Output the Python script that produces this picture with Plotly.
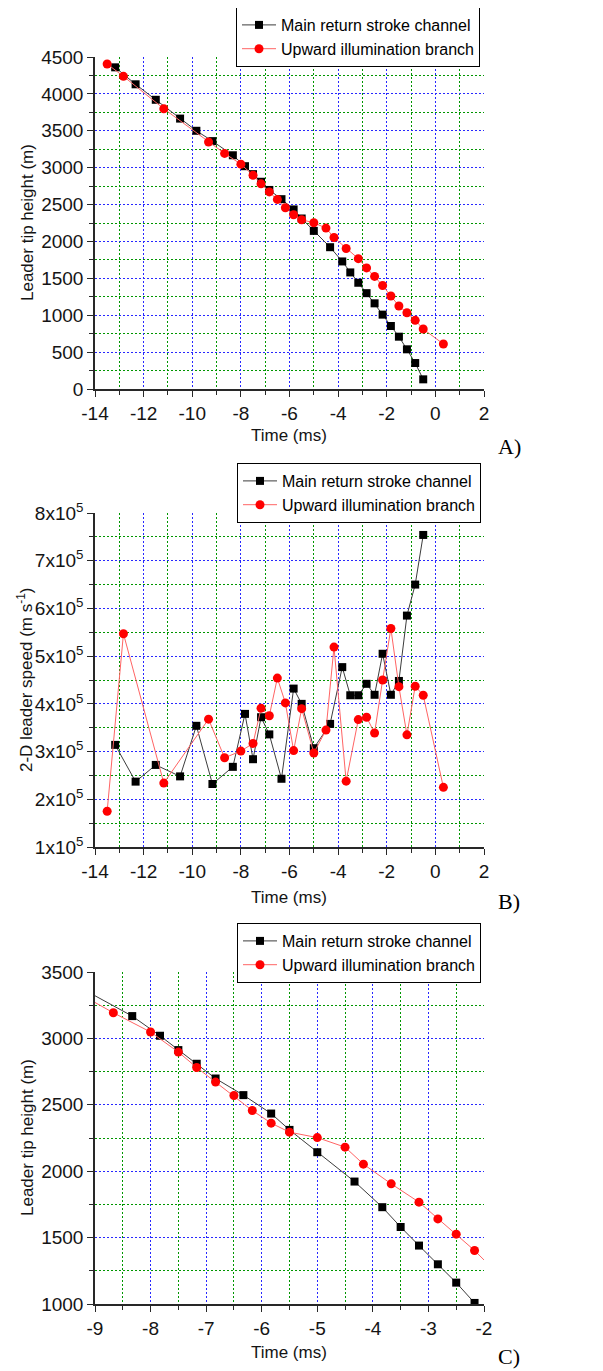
import plotly.graph_objects as go

# leader tip data (time in ms)
t_main = [-13.17, -12.33, -11.5, -10.5, -9.83, -9.17, -8.33, -7.83, -7.5, -7.17, -6.83, -6.33, -5.83, -5.5,
          -5.0, -4.33, -3.83, -3.5, -3.17, -2.83, -2.5, -2.17, -1.83, -1.5, -1.17, -0.83, -0.5]
h_main = [4360, 4130, 3920, 3665, 3500, 3360, 3168, 3020, 2912, 2809, 2698, 2573, 2434, 2311,
          2143, 1922, 1729, 1580, 1440, 1299, 1161, 1008, 854, 709, 538, 352, 131]
v_main = [3.14e5, 2.37e5, 2.72e5, 2.48e5, 3.54e5, 2.32e5, 2.68e5, 3.79e5, 2.84e5, 3.72e5, 3.36e5, 2.43e5, 4.32e5, 4.0e5,
          3.07e5, 3.58e5, 4.77e5, 4.18e5, 4.18e5, 4.42e5, 4.19e5, 5.05e5, 4.19e5, 4.48e5, 5.85e5, 6.50e5, 7.54e5]

t_up = [-13.5, -12.83, -11.17, -9.33, -8.67, -8.0, -7.5, -7.17, -6.83, -6.5, -6.17, -5.83, -5.5, -5.0,
        -4.5, -4.17, -3.67, -3.17, -2.83, -2.5, -2.17, -1.83, -1.5, -1.17, -0.83, -0.5, 0.33]
h_up = [4405, 4238, 3799, 3348, 3193, 3048, 2897, 2781, 2671, 2570, 2457, 2362, 2294, 2253,
        2181, 2053, 1905, 1767, 1641, 1526, 1403, 1260, 1125, 1034, 931, 813, 610]
v_up = [1.75e5, 5.47e5, 2.34e5, 3.68e5, 2.87e5, 3.01e5, 3.17e5, 3.91e5, 3.75e5, 4.54e5, 4.02e5, 3.02e5, 3.90e5, 2.97e5,
        3.45e5, 5.19e5, 2.38e5, 3.67e5, 3.72e5, 3.39e5, 4.50e5, 5.58e5, 4.36e5, 3.35e5, 4.37e5, 4.18e5, 2.25e5]

time_ticks_ab = [-14, -12, -10, -8, -6, -4, -2, 0, 2]
time_minor_ab = [-13, -11, -9, -7, -5, -3, -1, 1]
time_ticks_c = [-9, -8, -7, -6, -5, -4, -3, -2]
time_minor_c = [-8.5, -7.5, -6.5, -5.5, -4.5, -3.5, -2.5]
speed_ticks = [1e5, 2e5, 3e5, 4e5, 5e5, 6e5, 7e5, 8e5]
speed_minor = [1.5e5, 2.5e5, 3.5e5, 4.5e5, 5.5e5, 6.5e5, 7.5e5]
speed_labels = ['%dx10<sup>5</sup>' % (v / 1e5) for v in speed_ticks]

name_main = 'Main return stroke channel'
name_up = 'Upward illumination branch'

# the page body adds an 8px margin, so the figure is drawn a bit smaller
OFF = 8
W, H = 603 - OFF, 1371 - OFF
FONT = 'Liberation Sans, Arial, sans-serif'

def px_x(p):
    return (p - OFF) / W

def px_y(p):
    return 1 - (p - OFF) / H

def axis(dom, rng, dtick, minor, **kw):
    mn = dict(ticks='outside', ticklen=4, tickcolor='rgb(40,40,40)',
              showgrid=True, gridcolor='rgb(0,150,0)', gridwidth=1, griddash='2px,2px')
    if isinstance(minor, list):
        mn.update(tickmode='array', tickvals=minor)
    else:
        mn.update(dtick=minor)
    d = dict(domain=dom, range=rng, dtick=dtick, showline=True, linecolor='rgb(40,40,40)', linewidth=1.5,
             ticks='outside', ticklen=6, tickwidth=1.2, tickcolor='rgb(40,40,40)', automargin=False,
             showgrid=True, gridcolor='rgb(40,40,255)', gridwidth=1, griddash='2px,2px',
             zeroline=False, tickfont=dict(family=FONT, size=19, color='rgb(20,20,20)'), minor=mn)
    d.update(kw)
    return d

def time_axis(dom, rng, ticks, minor, anchor):
    # hyphen minus labels as in the original figure
    return axis(dom, rng, None, minor, anchor=anchor, tickmode='array',
                tickvals=ticks, ticktext=['%d' % t for t in ticks])

fig = go.Figure()

panels = [('x', 'y', 'legend', t_main, h_main, t_up, h_up),
          ('x2', 'y2', 'legend2', t_main, v_main, t_up, v_up),
          ('x3', 'y3', 'legend3', t_main, h_main, t_up, h_up)]

for xa, ya, lg, tm, ym, tu, yu in panels:
    fig.add_trace(go.Scatter(x=tm, y=ym, xaxis=xa, yaxis=ya, legend=lg, name=name_main, mode='lines+markers',
                             line=dict(color='rgb(60,60,60)', width=1),
                             marker=dict(symbol='square', size=8, color='black')))
    fig.add_trace(go.Scatter(x=tu, y=yu, xaxis=xa, yaxis=ya, legend=lg, name=name_up, mode='lines+markers',
                             line=dict(color='rgb(255,100,100)', width=1),
                             marker=dict(symbol='circle', size=9, color='rgb(255,0,0)')))

xdom = [px_x(95), px_x(484)]
legend_style = dict(xanchor='left', yanchor='top', bordercolor='black', borderwidth=1, bgcolor='white',
                    itemwidth=34, font=dict(family=FONT, size=16, color='black'), tracegroupgap=0)

fig.update_layout(
    template='none',
    width=W, height=H, margin=dict(l=0, r=0, t=0, b=0, autoexpand=False),
    paper_bgcolor='white', plot_bgcolor='white',
    font=dict(family=FONT, size=16, color='black'),
    xaxis=time_axis(xdom, [-14, 2], time_ticks_ab, time_minor_ab, 'y'),
    yaxis=axis([px_y(389), px_y(57)], [0, 4500], 500, 250, anchor='x'),
    xaxis2=time_axis(xdom, [-14, 2], time_ticks_ab, time_minor_ab, 'y2'),
    yaxis2=axis([px_y(847), px_y(513)], [1e5, 8e5], None, speed_minor, anchor='x2',
                tickmode='array', tickvals=speed_ticks, ticktext=speed_labels),
    xaxis3=time_axis(xdom, [-9, -2], time_ticks_c, time_minor_c, 'y3'),
    yaxis3=axis([px_y(1304), px_y(972)], [1000, 3500], 500, 250, anchor='x3'),
    legend=dict(x=px_x(236), y=px_y(7), **legend_style),
    legend2=dict(x=px_x(237), y=px_y(463), **legend_style),
    legend3=dict(x=px_x(237), y=px_y(923), **legend_style),
)

notes = [
    ('Time (ms)', 289, 435, 0), ('Time (ms)', 289, 897, 0), ('Time (ms)', 289, 1352, 0),
    ('Leader tip height (m)', 27, 223, -90), ('2-D leader speed (m s<sup>-1</sup>)', 25, 680, -90),
    ('Leader tip height (m)', 27, 1138, -90),
]
for txt, x, y, ang in notes:
    fig.add_annotation(text=txt, x=px_x(x), y=px_y(y), xref='paper', yref='paper', showarrow=False,
                       textangle=ang, xanchor='center', yanchor='middle',
                       font=dict(family=FONT, size=17, color='rgb(20,20,20)'))

for txt, y in [('A)', 447), ('B)', 901), ('C)', 1356)]:
    fig.add_annotation(text=txt, x=px_x(509), y=px_y(y), xref='paper', yref='paper', showarrow=False,
                       xanchor='center', yanchor='middle',
                       font=dict(family='Liberation Serif, Times New Roman, serif', size=22, color='black'))

fig.write_html("out.html")
